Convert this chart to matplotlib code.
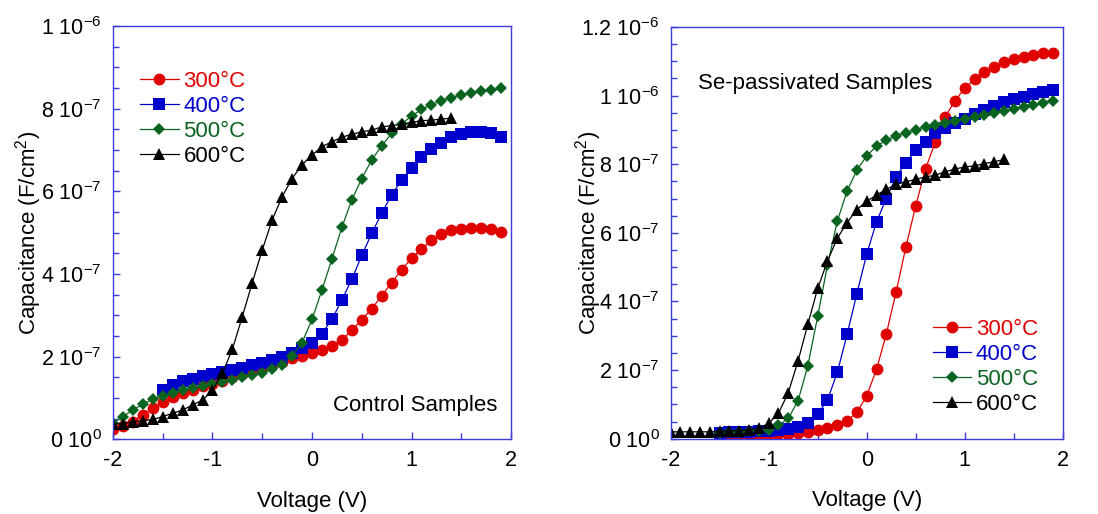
import numpy as np
import matplotlib
matplotlib.use('Agg')
import matplotlib.pyplot as plt
from matplotlib.ticker import FixedLocator, MultipleLocator, FuncFormatter

plt.rcParams['font.family'] = ['Liberation Sans', 'DejaVu Sans']
plt.rcParams['mathtext.fontset'] = 'custom'
plt.rcParams['mathtext.rm'] = 'Liberation Sans'
plt.rcParams['mathtext.it'] = 'Liberation Sans:italic'
plt.rcParams['mathtext.default'] = 'regular'

# Voltage sweeps (V)
v_full = np.round(np.arange(-2.0, 1.95, 0.1), 1)     # -2.0 .. 1.9
v_from_m15 = np.round(np.arange(-1.5, 1.95, 0.1), 1)  # -1.5 .. 1.9
v_to_14 = np.round(np.arange(-2.0, 1.45, 0.1), 1)     # -2.0 .. 1.4

# Control samples, capacitance in units of 1e-7 F/cm^2
ctrl_300 = [0.24, 0.32, 0.43, 0.60, 0.75, 0.91, 1.02, 1.12, 1.20, 1.28,
            1.35, 1.42, 1.50, 1.57, 1.65, 1.72, 1.80, 1.88, 1.96, 2.02,
            2.08, 2.16, 2.26, 2.40, 2.64, 2.89, 3.16, 3.47, 3.79, 4.10,
            4.38, 4.60, 4.82, 4.96, 5.06, 5.10, 5.11, 5.11, 5.08, 5.02]
ctrl_400 = [1.20, 1.32, 1.40, 1.47, 1.53, 1.58, 1.63, 1.68, 1.73, 1.79,
            1.85, 1.92, 2.00, 2.09, 2.20, 2.32, 2.56, 2.90, 3.37, 3.87,
            4.45, 4.98, 5.47, 5.91, 6.27, 6.56, 6.82, 7.02, 7.18, 7.31,
            7.39, 7.43, 7.43, 7.40, 7.32]
ctrl_500 = [0.39, 0.55, 0.71, 0.85, 0.97, 1.05, 1.11, 1.19, 1.25, 1.29,
            1.35, 1.39, 1.43, 1.50, 1.56, 1.61, 1.69, 1.81, 2.02, 2.34,
            2.90, 3.61, 4.36, 5.13, 5.79, 6.31, 6.76, 7.10, 7.40, 7.63,
            7.82, 7.98, 8.10, 8.19, 8.27, 8.33, 8.37, 8.43, 8.45, 8.49]
ctrl_600 = [0.37, 0.38, 0.43, 0.45, 0.48, 0.55, 0.63, 0.71, 0.83, 0.95,
            1.19, 1.60, 2.18, 2.97, 3.79, 4.58, 5.31, 5.87, 6.31, 6.64,
            6.88, 7.08, 7.20, 7.31, 7.38, 7.44, 7.48, 7.56, 7.59, 7.62,
            7.67, 7.71, 7.72, 7.75, 7.77]

# Se-passivated samples, capacitance in units of 1e-7 F/cm^2
se_300 = [0.10, 0.10, 0.10, 0.11, 0.11, 0.12, 0.13, 0.15, 0.17, 0.20,
          0.25, 0.30, 0.40, 0.52, 0.77, 1.25, 2.02, 3.05, 4.28, 5.59,
          6.79, 7.86, 8.65, 9.38, 9.85, 10.21, 10.48, 10.69, 10.84, 10.98,
          11.06, 11.13, 11.18, 11.23, 11.24]
se_400 = [0.18, 0.19, 0.19, 0.20, 0.21, 0.22, 0.25, 0.29, 0.35, 0.45,
          0.71, 1.13, 1.93, 3.04, 4.23, 5.38, 6.32, 7.00, 7.63, 8.05,
          8.41, 8.65, 8.90, 9.06, 9.20, 9.33, 9.46, 9.57, 9.69, 9.80,
          9.89, 9.96, 10.04, 10.11, 10.16]
se_500 = [0.18, 0.19, 0.20, 0.21, 0.22, 0.25, 0.40, 0.59, 1.11, 2.13,
          3.57, 5.06, 6.34, 7.22, 7.83, 8.24, 8.53, 8.70, 8.83, 8.92,
          9.01, 9.09, 9.14, 9.19, 9.26, 9.33, 9.38, 9.43, 9.49, 9.55,
          9.62, 9.67, 9.72, 9.79, 9.85]
se_600 = [0.20, 0.20, 0.20, 0.20, 0.20, 0.21, 0.23, 0.23, 0.26, 0.30,
          0.45, 0.74, 1.34, 2.27, 3.34, 4.38, 5.18, 5.84, 6.30, 6.68,
          6.92, 7.10, 7.27, 7.41, 7.49, 7.56, 7.63, 7.68, 7.78, 7.86,
          7.92, 7.95, 8.02, 8.07, 8.14]

labels = ['300°C', '400°C', '500°C', '600°C']
colors = ['#e00000', '#0000cc', '#0a6420', '#000000']
markers = ['o', 's', 'D', '^']
msizes = [8.5, 8.5, 6.0, 8.5]
spine_color = '#3c3cdc'


def sci_label(val, pos):
    # tick labels like "4 10^-7", as in the original figure
    if abs(val) < 1e-12:
        return r'0 10$^{0}$'
    exp = int(np.floor(np.log10(abs(val)) + 1e-9))
    mant = val / 10 ** exp
    mant_txt = f'{mant:.1f}'.rstrip('0').rstrip('.')
    return f'{mant_txt} 10$^{{{exp}}}$'


def style_axes(ax, ymax, ystep, ylab_x):
    ax.set_xlim(-2, 2)
    ax.set_ylim(0, ymax)
    ax.xaxis.set_major_locator(MultipleLocator(1))
    ax.xaxis.set_minor_locator(MultipleLocator(0.5))
    ax.yaxis.set_major_locator(FixedLocator(np.arange(0, ymax * 1.001, ystep)))
    ax.yaxis.set_minor_locator(MultipleLocator(0.5e-7))
    ax.yaxis.set_major_formatter(FuncFormatter(sci_label))
    ax.xaxis.set_major_formatter(FuncFormatter(lambda v, p: f'{v:.0f}'))
    for sp in ax.spines.values():
        sp.set_color(spine_color)
        sp.set_linewidth(1.0)
    ax.tick_params(which='both', direction='in', color=spine_color,
                   top=False, right=False, labelsize=15.5, labelcolor='black')
    ax.tick_params(which='major', length=5, width=1, pad=8)
    ax.tick_params(which='minor', length=4, width=1)
    ax.set_xlabel('Voltage (V)', fontsize=16, labelpad=14)
    ax.set_ylabel('Capacitance (F/cm$^{2}$)', fontsize=16)
    ax.yaxis.set_label_coords(ylab_x, 0.5)


fig = plt.figure(figsize=(10.98, 5.14), dpi=100)
ax1 = fig.add_axes([0.1029, 0.1453, 0.3625, 0.8041])
ax2 = fig.add_axes([0.6108, 0.1465, 0.3571, 0.8010])

ctrl_sets = [(v_full, ctrl_300), (v_from_m15, ctrl_400), (v_full, ctrl_500), (v_to_14, ctrl_600)]
se_sets = [(v_from_m15, se_300), (v_from_m15, se_400), (v_from_m15, se_500), (v_to_14, se_600)]

for ax, sets in [(ax1, ctrl_sets), (ax2, se_sets)]:
    for (v, c), lab, col, mk, ms in zip(sets, labels, colors, markers, msizes):
        ax.plot(v, np.array(c) * 1e-7, color=col, marker=mk, markersize=ms,
                markeredgewidth=0, linewidth=0.9, label=lab)

style_axes(ax1, 1e-6, 2e-7, -0.174)
style_axes(ax2, 1.2e-6, 2e-7, -0.169)

ax1.text(1.86, 0.83e-7, 'Control Samples', fontsize=16, ha='right', va='center')
ax2.text(-1.72, 10.35e-7, 'Se-passivated Samples', fontsize=16, ha='left', va='center')

leg_kw = dict(loc='upper left', frameon=False, fontsize=16, numpoints=1,
              handlelength=1.75, handletextpad=0.2, labelspacing=0.18,
              borderpad=0, borderaxespad=0)
leg1 = ax1.legend(bbox_to_anchor=(0.068, 0.891), **leg_kw)
leg2 = ax2.legend(bbox_to_anchor=(0.668, 0.291), **leg_kw)
for leg in (leg1, leg2):
    for txt, col in zip(leg.get_texts(), colors):
        txt.set_color(col)

fig.savefig('out.png', dpi=100)
